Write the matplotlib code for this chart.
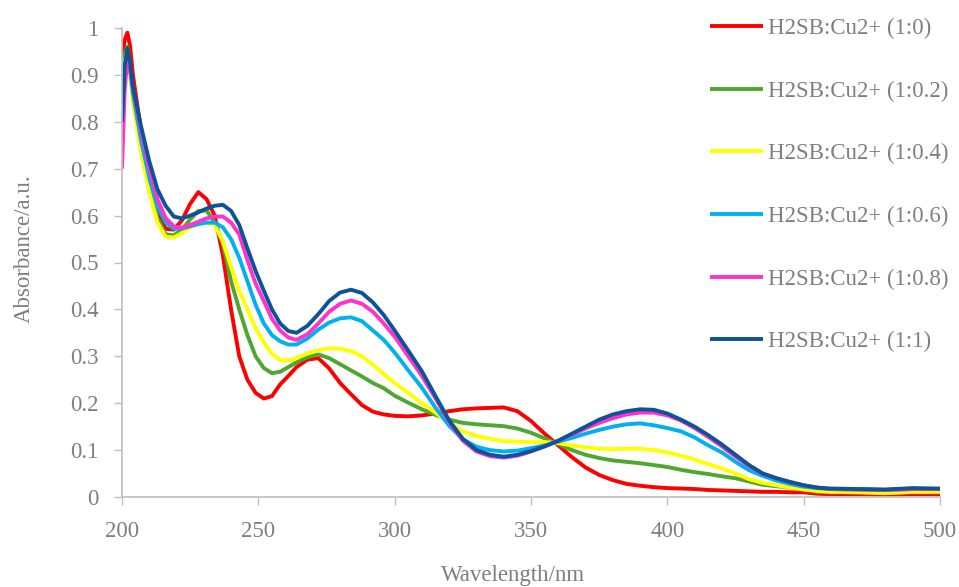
"""
plot.py — UV-Vis titration of H2SB with Cu2+.
"""

import matplotlib
matplotlib.use('Agg')
import matplotlib.pyplot as plt

# wavelength grid (nm)
wavelength = [200, 201, 202, 203, 204, 207, 210, 213, 216, 219, 222, 225,
              228, 231, 234, 237, 240, 243, 246, 249, 252, 255,
              258, 261, 264, 268, 272, 276, 280, 284, 288, 292,
              296,
              300, 305, 310, 315, 320, 325, 330, 335, 340, 345,
              350, 355, 360, 365, 370, 375, 380, 385, 390, 395,
              400, 405, 410, 415, 420, 425, 430, 435, 440, 445,
              450, 455, 460,
              470, 480, 490, 500]

abs_1_0 = [0.93, 0.975, 0.99, 0.96, 0.9, 0.78, 0.68, 0.61, 0.572, 0.57, 0.59, 0.625,
           0.65, 0.635, 0.6, 0.515, 0.4, 0.3, 0.25, 0.222, 0.21, 0.215,
           0.24, 0.258, 0.277, 0.293, 0.296, 0.274, 0.243, 0.219, 0.196, 0.182,
           0.176,
           0.173, 0.172, 0.174, 0.178, 0.183, 0.187, 0.189, 0.19, 0.191, 0.183,
           0.162, 0.135, 0.11, 0.085, 0.063, 0.047, 0.036, 0.028, 0.024, 0.021,
           0.019, 0.018, 0.017, 0.015, 0.014, 0.013, 0.012, 0.011, 0.011, 0.01,
           0.01, 0.007, 0.006,
           0.006, 0.005, 0.006, 0.006]

abs_1_02 = [0.9, 0.945, 0.96, 0.92, 0.855, 0.745, 0.66, 0.595, 0.56, 0.558, 0.57, 0.592,
            0.61, 0.611, 0.585, 0.54, 0.46, 0.4, 0.345, 0.3, 0.275, 0.264,
            0.267, 0.277, 0.287, 0.298, 0.304, 0.296, 0.283, 0.27, 0.257, 0.243,
            0.232,
            0.216, 0.201, 0.187, 0.175, 0.165, 0.158, 0.155, 0.153, 0.151, 0.146,
            0.137, 0.125, 0.113, 0.1, 0.09, 0.083, 0.078, 0.075, 0.072, 0.068,
            0.064, 0.058, 0.053, 0.049, 0.044, 0.04, 0.033, 0.026, 0.023, 0.02,
            0.016, 0.011, 0.01,
            0.01, 0.009, 0.01, 0.01]

abs_1_04 = [0.88, 0.93, 0.95, 0.905, 0.84, 0.735, 0.65, 0.585, 0.555, 0.553, 0.563, 0.575,
            0.583, 0.585, 0.58, 0.545, 0.49, 0.44, 0.4, 0.36, 0.33, 0.305,
            0.292, 0.291, 0.296, 0.306, 0.313, 0.317, 0.316, 0.311, 0.3, 0.282,
            0.262,
            0.243, 0.222, 0.2, 0.18, 0.157, 0.14, 0.13, 0.124, 0.119, 0.118,
            0.117, 0.117, 0.115, 0.11, 0.106, 0.103, 0.102, 0.103, 0.103, 0.1,
            0.095, 0.088, 0.08, 0.07, 0.061, 0.05, 0.038, 0.03, 0.025, 0.02,
            0.016, 0.013, 0.011,
            0.01, 0.008, 0.011, 0.011]

abs_1_06 = [0.85, 0.92, 0.945, 0.91, 0.86, 0.76, 0.68, 0.62, 0.585, 0.572, 0.572, 0.577,
            0.582, 0.585, 0.585, 0.575, 0.55, 0.51, 0.46, 0.41, 0.37, 0.345,
            0.332, 0.325, 0.325, 0.338, 0.357, 0.372, 0.381, 0.383, 0.375, 0.355,
            0.335,
            0.308, 0.27, 0.233, 0.19, 0.152, 0.123, 0.107, 0.1, 0.097, 0.099,
            0.104, 0.11, 0.118, 0.126, 0.135, 0.143, 0.15, 0.155, 0.157, 0.153,
            0.147, 0.14, 0.127, 0.11, 0.095, 0.075, 0.057, 0.045, 0.035, 0.028,
            0.022, 0.019, 0.017,
            0.016, 0.015, 0.017, 0.017]

abs_1_08 = [0.7, 0.87, 0.932, 0.91, 0.87, 0.78, 0.7, 0.635, 0.595, 0.577, 0.574, 0.58,
            0.587, 0.594, 0.598, 0.598, 0.585, 0.56, 0.505, 0.455, 0.418, 0.38,
            0.355, 0.34, 0.335, 0.347, 0.37, 0.395, 0.412, 0.419, 0.412, 0.395,
            0.37,
            0.342, 0.3, 0.258, 0.21, 0.16, 0.12, 0.097, 0.087, 0.084, 0.088,
            0.097, 0.108, 0.12, 0.133, 0.146, 0.158, 0.168, 0.176, 0.18, 0.18,
            0.174, 0.163, 0.147, 0.128, 0.108, 0.086, 0.066, 0.05, 0.04, 0.032,
            0.025, 0.02, 0.017,
            0.016, 0.015, 0.017, 0.017]

abs_1_1 = [0.8, 0.92, 0.957, 0.925, 0.875, 0.79, 0.716, 0.656, 0.621, 0.598, 0.594, 0.6,
           0.607, 0.615, 0.621, 0.623, 0.61, 0.58, 0.53, 0.482, 0.44, 0.4,
           0.37, 0.354, 0.35, 0.365, 0.39, 0.418, 0.436, 0.442, 0.435, 0.415,
           0.388,
           0.355, 0.312, 0.268, 0.215, 0.163, 0.124, 0.1, 0.09, 0.086, 0.09,
           0.098, 0.108, 0.12, 0.135, 0.15, 0.165, 0.176, 0.183, 0.187, 0.186,
           0.178, 0.165, 0.15, 0.132, 0.112, 0.09, 0.068, 0.05, 0.04, 0.032,
           0.025, 0.02, 0.018,
           0.017, 0.016, 0.019, 0.018]

labels = ['H2SB:Cu2+ (1:0)', 'H2SB:Cu2+ (1:0.2)', 'H2SB:Cu2+ (1:0.4)',
          'H2SB:Cu2+ (1:0.6)', 'H2SB:Cu2+ (1:0.8)', 'H2SB:Cu2+ (1:1)']
colors = ['#ff0000', '#4ea72e', '#ffff00', '#00b0f0', '#ff33cc', '#0b5497']

x_ticks = [200, 250, 300, 350, 400, 450, 500]
y_ticks = [0, 0.1, 0.2, 0.3, 0.4, 0.5, 0.6, 0.7, 0.8, 0.9, 1]
y_tick_labels = ['0', '0.1', '0.2', '0.3', '0.4', '0.5', '0.6', '0.7',
                 '0.8', '0.9', '1']

TEXT = '#7f7f7f'
AXIS = '#bfbfbf'
FS = 16.5

plt.rcParams['font.family'] = ['Liberation Serif', 'DejaVu Serif']

W, H = 959, 587
fig = plt.figure(figsize=(W / 100, H / 100), dpi=100)
ax = fig.add_axes([122 / W, 1 - 497 / H, (940 - 122) / W, (497 - 28) / H])

series = [abs_1_0, abs_1_02, abs_1_04, abs_1_06, abs_1_08, abs_1_1]
for y, c, lab in zip(series, colors, labels):
    ax.plot(wavelength, y, color=c, linewidth=2.8, label=lab,
            solid_joinstyle='round', solid_capstyle='butt')

ax.set_xlim(200, 500)
ax.set_ylim(0, 1)
ax.set_xticks(x_ticks)
ax.set_yticks(y_ticks)
ax.set_yticklabels(y_tick_labels)

for side in ('top', 'right'):
    ax.spines[side].set_visible(False)
for side in ('left', 'bottom'):
    ax.spines[side].set_color(AXIS)
    ax.spines[side].set_linewidth(1.2)

ax.tick_params(axis='both', direction='out', length=6, width=1.0,
               color=AXIS, labelcolor=TEXT, labelsize=FS)
ax.tick_params(axis='y', pad=11)
ax.tick_params(axis='x', pad=11)

ax.set_xlabel('Wavelength/nm', fontsize=FS, color=TEXT)
ax.set_ylabel('Absorbance/a.u.', fontsize=FS, color=TEXT)
ax.xaxis.set_label_coords((513 - 122) / 818, (497 - 565) / 469)
ax.yaxis.set_label_coords((35 - 122) / 818, 0.53)

ax.legend(loc='upper left', bbox_to_anchor=(710 / W, 1 - 18 / H),
          bbox_transform=fig.transFigure, frameon=False, fontsize=FS,
          labelcolor=TEXT, handlelength=2.3, handletextpad=0.22,
          labelspacing=1.81, borderpad=0, borderaxespad=0)

fig.savefig('out.png', dpi=100)
